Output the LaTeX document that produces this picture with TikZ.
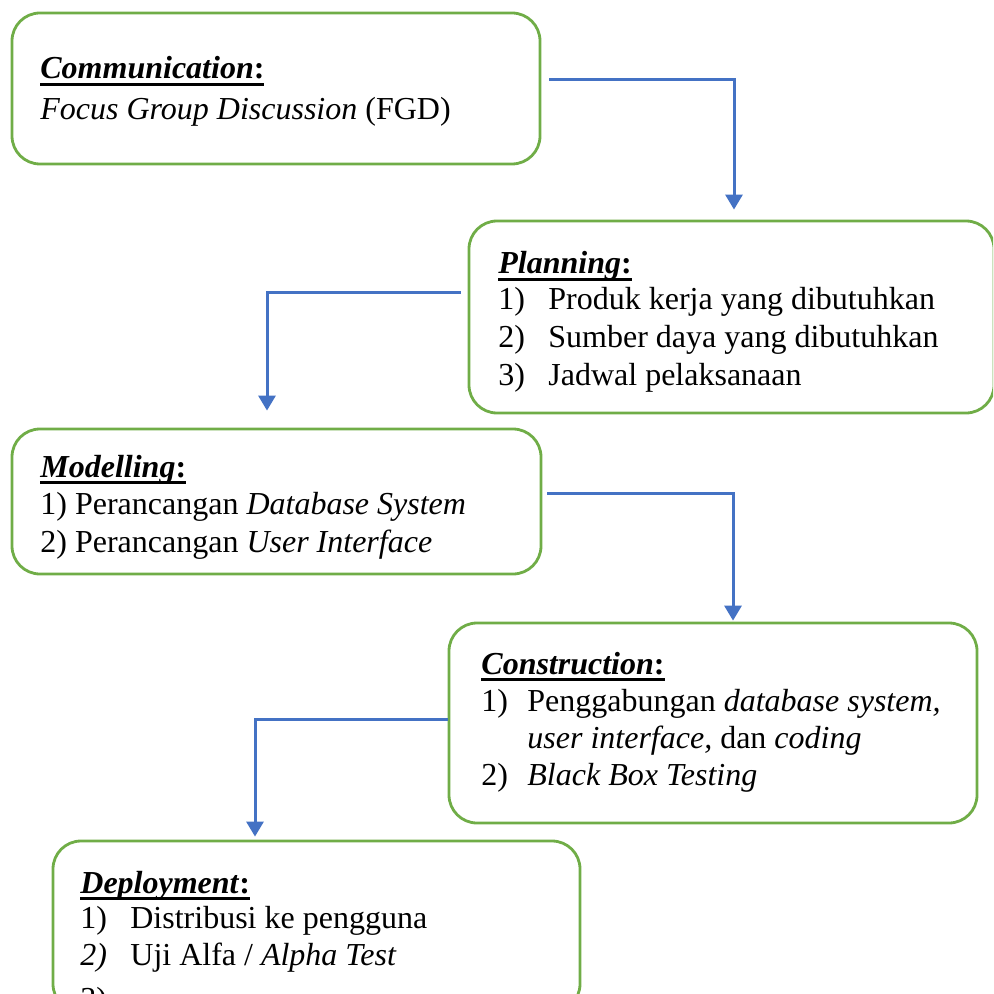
\documentclass[tikz,border=0pt]{standalone}
\usepackage{fontspec}
\setmainfont{Liberation Serif}
\usetikzlibrary{arrows.meta,fit}
\definecolor{boxgreen}{HTML}{70AD47}
\definecolor{flowblue}{HTML}{4472C4}
% section heading: bold italic with a bold colon, underlined at a fixed depth
\newsavebox\headbox
\newcommand\phead[1]{\sbox\headbox{\textbf{\textit{#1}:}}%
  \rlap{\rule[-3.4pt]{\wd\headbox}{1.2pt}}\usebox\headbox}
% numbered line with a fixed-width label
\newcommand\itm[3][25pt]{\makebox[#1][l]{#2}#3}
\tikzset{
  stage/.style={draw=boxgreen, line width=1.4pt, rounded corners=14pt, fill=white, inner sep=0pt},
  txt/.style={anchor=base west, inner sep=0pt, font=\fontsize{16}{18.75}\selectfont},
  flow/.style={draw=flowblue, line width=1.5pt, -{Triangle[width=8.5pt,length=7.5pt]}}
}
\begin{document}
\begin{tikzpicture}[x=0.5pt,y=-0.5pt]
\useasboundingbox (0,0) rectangle (993,994);
\clip (0,0) rectangle (993,994);

% stage boxes
\node[stage, fit={(12,13) (540,164)}] (comm) {};
\node[stage, fit={(469,221) (994,413)}] (plan) {};
\node[stage, fit={(12,429) (541,574)}] (model) {};
\node[stage, fit={(449,623) (977,823)}] (cons) {};
\node[stage, fit={(53,841) (580,1012)}] (dep) {};

% Communication
\node[txt] (commh) at (40,79) {\phead{Communication}};
\node[txt] (comm1) at (40,120) {\textit{Focus Group Discussion} (FGD)};

% Planning
\node[txt] (planh) at (498,274) {\phead{Planning}};
\node[txt] (plan1) at (498,309) {\itm{1)}{Produk kerja yang dibutuhkan}};
\node[txt] (plan2) at (498,347) {\itm{2)}{Sumber daya yang dibutuhkan}};
\node[txt] (plan3) at (498,385) {\itm{3)}{Jadwal pelaksanaan}};

% Modelling
\node[txt] (modelh) at (40,477) {\phead{Modelling}};
\node[txt] (model1) at (40,514) {1) Perancangan \textit{Database System}};
\node[txt] (model2) at (40,552) {2) Perancangan \textit{User Interface}};

% Construction
\node[txt] (consh) at (481,674) {\phead{Construction}};
\node[txt] (cons1) at (481,711) {\itm[23pt]{1)}{Penggabungan \textit{database system,}}};
\node[txt] (cons2) at (527,748) {\textit{user interface,} dan \textit{coding}};
\node[txt] (cons3) at (481,785) {\itm[23pt]{2)}{\textit{Black Box Testing}}};

% Deployment
\node[txt] (deph) at (80,893) {\phead{Deployment}};
\node[txt] (dep1) at (80,928) {\itm{1)}{Distribusi ke pengguna}};
\node[txt] (dep2) at (80,965) {\itm{\textit{2)}}{Uji Alfa / \textit{Alpha Test}}};
\node[txt] (dep3) at (80,1009) {\itm{3)}{}};

% flow connectors
\draw[flow] ([shift={(8,-8.5)}]comm.east) -| ([shift={(2.5,-10)}]plan.north);
\draw[flow] ([shift={(-7,-24)}]plan.west) -| ([shift={(-9.5,-17)}]model.north);
\draw[flow] ([shift={(5,-8.5)}]model.east) -| ([shift={(20,-1)}]cons.north);
\draw[flow] ([shift={(0,-4)}]cons.west) -| ([shift={(-61.5,-3)}]dep.north);
\end{tikzpicture}
\end{document}
